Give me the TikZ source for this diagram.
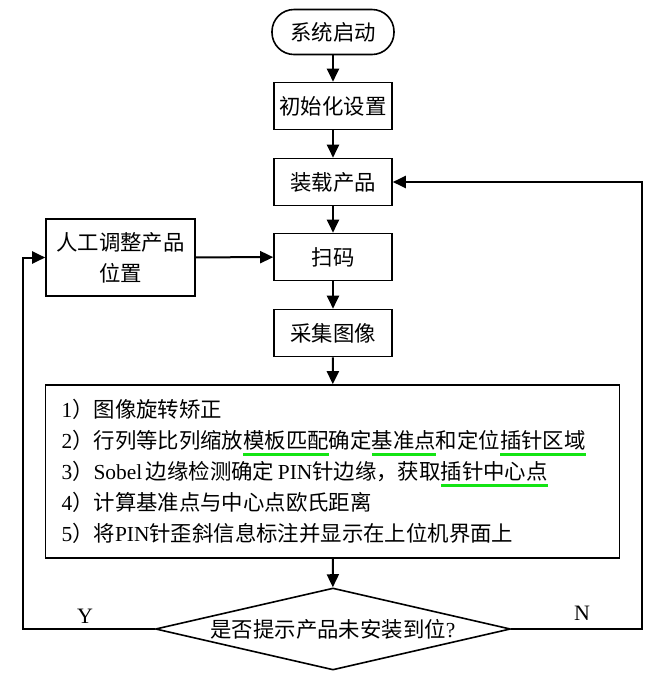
\documentclass[tikz,border=0pt]{standalone}
\usepackage{fontspec}
\setmainfont{Liberation Serif}
\newfontfamily\cjk{Noto Sans CJK SC}
\usetikzlibrary{arrows.meta,shapes.geometric}

\definecolor{ulgreen}{RGB}{20,228,20}
\newsavebox\gulbox
\newcommand\gul[1]{\sbox\gulbox{#1}\rlap{\color{ulgreen}\rule[-3.7pt]{\wd\gulbox}{1.4pt}}\usebox\gulbox}

\tikzset{
  flow/.style = {line width=1pt, -{Triangle[length=6.5pt,width=6pt]}},
  box/.style = {draw, line width=0.8pt, minimum width=59pt, minimum height=23.5pt,
                inner sep=0pt, font=\cjk\fontsize{10.7}{15.5}\selectfont},
}

\begin{document}
\begin{tikzpicture}[x=0.5pt, y=-0.5pt]
    \useasboundingbox (0,0) rectangle (663,682);

    % Nodes
    \node[box, rounded corners=11pt, minimum width=61pt, minimum height=22.5pt] (start) at (333,32) {系统启动};
    \node[box] (init) at (333,106) {初始化设置};
    \node[box] (load) at (333,182) {装载产品};
    \node[box] (scan) at (333,257) {扫码};
    \node[box] (grab) at (333,333) {采集图像};
    \node[box, minimum width=74.5pt, minimum height=38.5pt, align=center] (fix) at (120.5,257.5) {人工调整产品\\位置};

    \node[box, minimum width=287pt, minimum height=86.5pt, text width=271pt, align=left,
          inner xsep=8pt] (steps) at (332.5,471.5) {%
      {\rmfamily 1}）图像旋转矫正\\
      {\rmfamily 2}）行列等比列缩放\gul{模板匹配}确定\gul{基准点}和定位\gul{插针区域}\\
      {\rmfamily 3}）{\rmfamily Sobel}\,边缘检测确定\,{\rmfamily PIN}针边缘，获取\gul{插针中心点}\\
      {\rmfamily 4}）计算基准点与中心点欧氏距离\\
      {\rmfamily 5}）将{\rmfamily PIN}针歪斜信息标注并显示在上位机界面上};

    \node[box, diamond, aspect=4.3, minimum width=177.5pt, minimum height=41pt] (check) at (333,629)
      {是否提示产品未安装到位{\rmfamily ?}};

    \node[font=\fontsize{11}{13}\selectfont] (yes) at (85,616) {Y};
    \node[font=\fontsize{11}{13}\selectfont] (no) at (582,613) {N};

    \coordinate (lcorner) at (23,629);
    \coordinate (rcorner) at (642,629);

    % Edges
    \foreach \a/\b in {start/init, init/load, load/scan, scan/grab, grab/steps, steps/check}
        \draw[flow] (\a) -- (\b);

    \draw[flow] (fix) -- (scan);

    % (Y) back to manual adjust
    \draw[flow] (check.west) -- (lcorner) |- (fix.west);

    % (N) back to loading
    \draw[flow] (check.east) -- (rcorner) |- (load.east);

\end{tikzpicture}
\end{document}
